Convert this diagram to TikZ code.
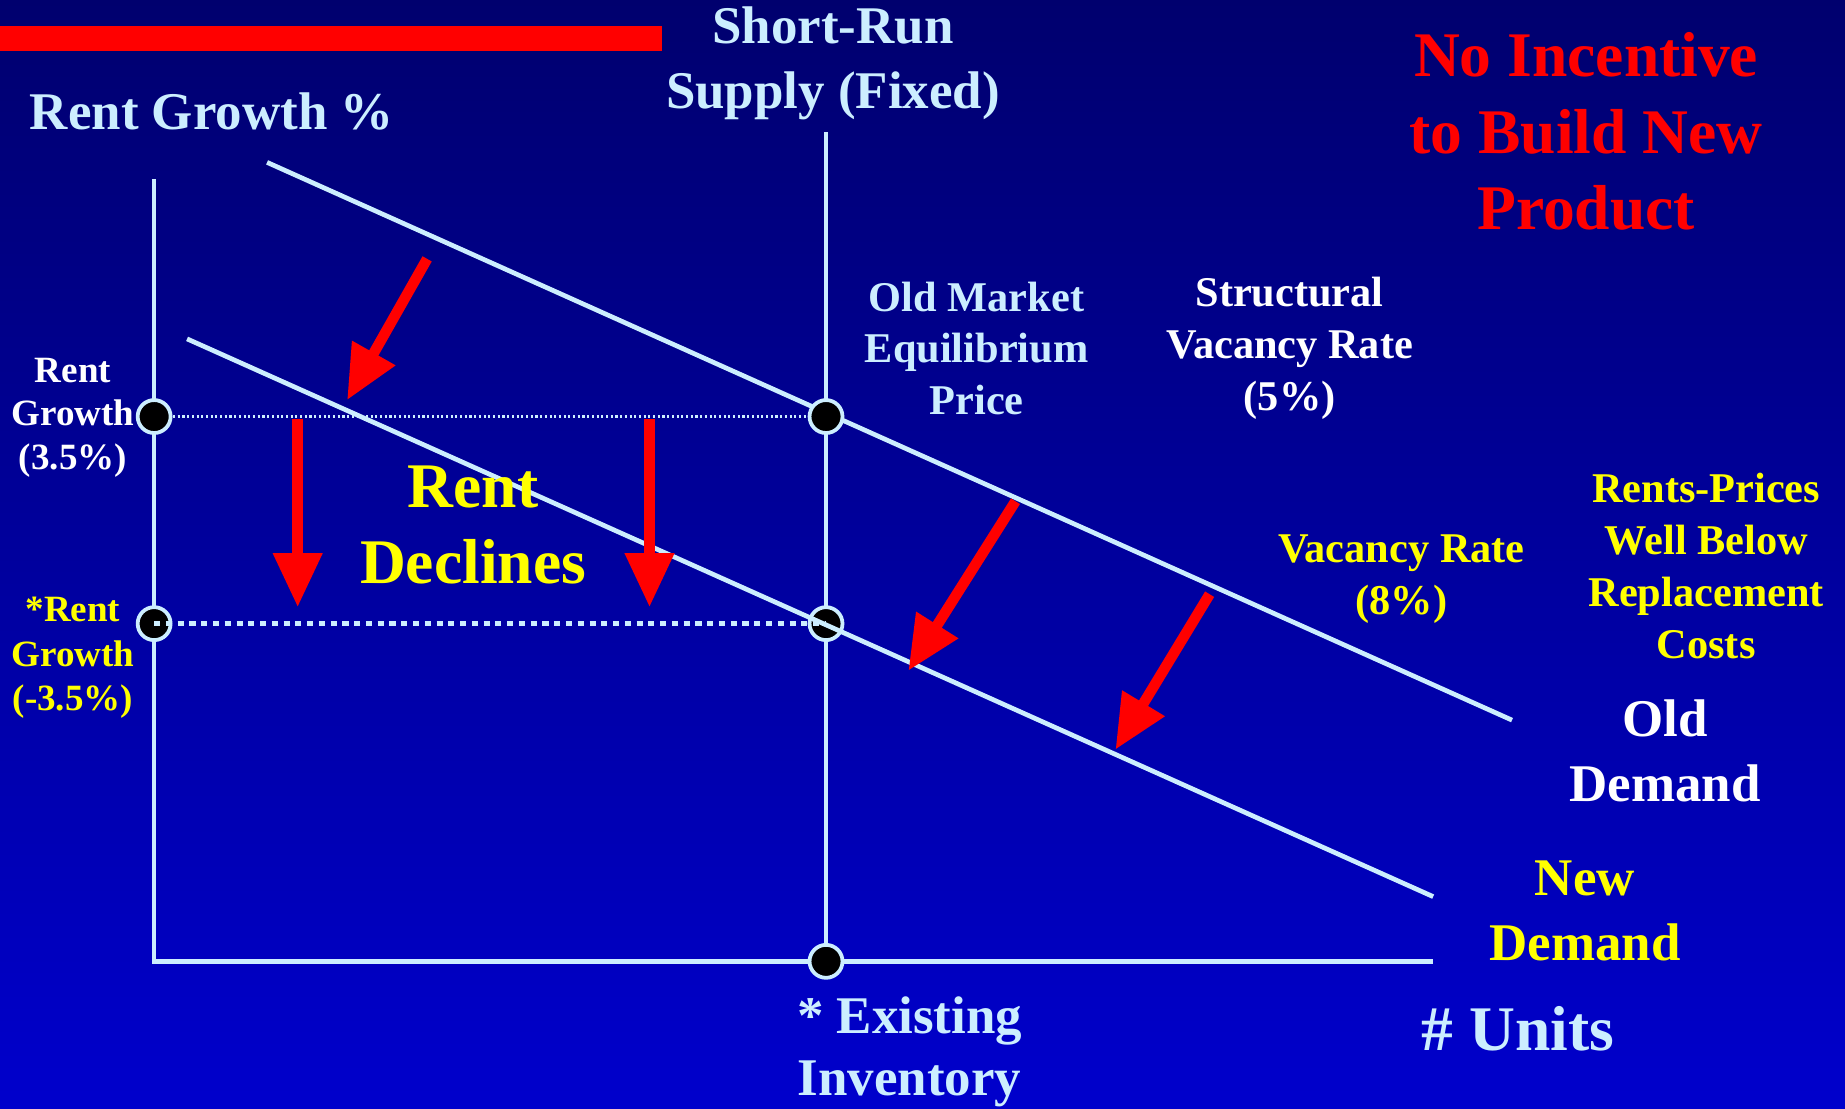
\documentclass[tikz,border=0pt]{standalone}
\usepackage{fontspec}
\setmainfont{Liberation Serif}
\usetikzlibrary{arrows.meta}
\definecolor{lblue}{HTML}{CCEEFF}
\definecolor{bgtop}{HTML}{00006E}
\definecolor{bgbot}{HTML}{0000CC}
\definecolor{ylw}{HTML}{FFFF00}
\definecolor{rd}{HTML}{FF0000}
\tikzset{
  axisline/.style={draw=lblue, line width=2pt},
  dotnode/.style={circle, fill=black, draw=lblue, line width=1.6pt, minimum size=14pt, inner sep=0pt},
  redarrow/.style={draw=rd, line width=4.5pt, -{Triangle[width=20pt,length=23pt]}},
  lbl/.style={inner sep=0pt, align=center, font=\bfseries},
}
\newcommand{\fsz}[2]{\fontsize{#1}{#2}\selectfont}
\begin{document}
\begin{tikzpicture}[x=0.5pt,y=-0.5pt]
\useasboundingbox (0,0) rectangle (1568,942);
\shade[top color=bgtop, bottom color=bgbot] (0,0) rectangle (1568,942);
% red bar
\fill[rd] (0,22) rectangle (563,43);
% coordinates
\coordinate (ytop) at (131,152);
\coordinate (orig) at (131,817);
\coordinate (xend) at (1218,817);
\coordinate (stop) at (702,112);
\coordinate (sbot) at (702,817);
\coordinate (od1) at (227,138);
\coordinate (od2) at (1285,612);
\coordinate (nd1) at (159,288);
\coordinate (nd2) at (1218,762);
\coordinate (p1) at (131,354);
\coordinate (p2) at (702,354);
\coordinate (p3) at (131,530);
\coordinate (p4) at (702,530);
% axes and supply
\draw[axisline] (ytop) -- (orig) -- (xend);
\draw[axisline] (stop) -- (sbot);
% old demand
\draw[axisline] (od1) -- (od2);
% upper dotted
\draw[lblue, line width=0.9pt, dash pattern=on 0.9pt off 1.1pt] (p1) -- (p2);
% dots
\node[dotnode] (d1) at (p1) {};
\node[dotnode] (d2) at (p2) {};
\node[dotnode] (d3) at (p3) {};
\node[dotnode] (d4) at (p4) {};
\node[dotnode] (d5) at (sbot) {};
% lower dotted and new demand
\draw[lblue, line width=2pt, dash pattern=on 2.6pt off 2.4pt] (p3) -- (p4);
\draw[axisline] (nd1) -- (nd2);
% red arrows
\coordinate (a1s) at (363,220); \coordinate (a1e) at (295,340);
\coordinate (a2s) at (253,356); \coordinate (a2e) at (253,516);
\coordinate (a3s) at (552,356); \coordinate (a3e) at (552,516);
\coordinate (a4s) at (863,426); \coordinate (a4e) at (772,570);
\coordinate (a5s) at (1028,505); \coordinate (a5e) at (948,637);
\draw[redarrow] (a1s) -- (a1e);
\draw[redarrow] (a2s) -- (a2e);
\draw[redarrow] (a3s) -- (a3e);
\draw[redarrow] (a4s) -- (a4e);
\draw[redarrow] (a5s) -- (a5e);
% labels
\node[lbl, text=lblue, font=\bfseries\fsz{22.5pt}{27.5pt}] (srs) at (708,54) {Short-Run\\Supply (Fixed)};
\node[lbl, text=lblue, font=\bfseries\fsz{22.5pt}{27.5pt}, anchor=west] (rg) at (25,95) {Rent Growth \%};
\node[lbl, text=rd, font=\bfseries\fsz{27pt}{32.5pt}] (noinc) at (1348,112) {No Incentive\\to Build New\\Product};
\node[lbl, text=white, font=\bfseries\fsz{15.75pt}{18.6pt}] (rg1) at (62,355) {Rent\\Growth\\(3.5\%)};
\node[lbl, text=ylw, font=\bfseries\fsz{15.75pt}{19pt}] (rg2) at (62,559) {*Rent\\Growth\\(-3.5\%)};
\node[lbl, text=ylw, font=\bfseries\fsz{27pt}{32.5pt}] (rd) at (402,446) {Rent\\Declines};
\node[lbl, text=lblue, font=\bfseries\fsz{18pt}{22pt}] (ome) at (830,296) {Old Market\\Equilibrium\\Price};
\node[lbl, text=white, font=\bfseries\fsz{18pt}{22pt}] (svr) at (1096,296) {Structural\\Vacancy Rate\\(5\%)};
\node[lbl, text=ylw, font=\bfseries\fsz{18pt}{22pt}] (vr) at (1191,492) {Vacancy Rate\\(8\%)};
\node[lbl, text=ylw, font=\bfseries\fsz{18pt}{22pt}] (rp) at (1450,481) {Rents-Prices\\Well Below\\Replacement\\Costs};
\node[lbl, text=white, font=\bfseries\fsz{22.5pt}{27.5pt}] (old) at (1415,638) {Old\\Demand};
\node[lbl, text=ylw, font=\bfseries\fsz{22.5pt}{27.5pt}] (new) at (1347,774) {New\\Demand};
\node[lbl, text=lblue, font=\bfseries\fsz{27pt}{32pt}] (units) at (1290,874) {\# Units};
\node[lbl, text=lblue, font=\bfseries\fsz{22.5pt}{26.5pt}] (ei) at (773,894) {* Existing\\Inventory};
\end{tikzpicture}
\end{document}
